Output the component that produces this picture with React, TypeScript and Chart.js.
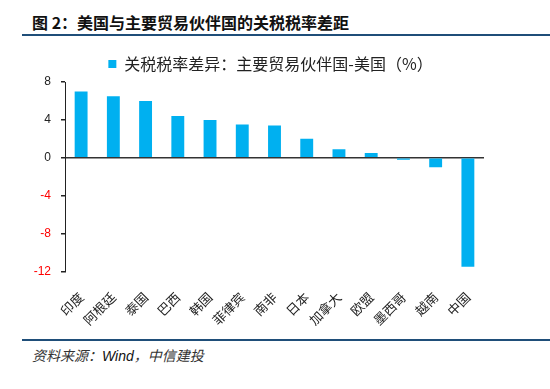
import React, { useEffect, useRef } from "react";
import { Chart, registerables } from "chart.js";

Chart.register(...registerables);

const categories = ["印度", "阿根廷", "泰国", "巴西", "韩国", "菲律宾", "南非", "日本", "加拿大", "欧盟", "墨西哥", "越南", "中国"];
const tariffGap = [7.0, 6.5, 6.0, 4.4, 4.0, 3.5, 3.4, 2.0, 0.9, 0.5, -0.2, -1.0, -11.5];
const seriesLabel = "关税税率差异：主要贸易伙伴国-美国（%）";
const yMin = -12;
const yMax = 8;
const yStep = 4;

const CJK = "'Noto Sans CJK SC', sans-serif";
const NUM = "'Liberation Sans', Arial, sans-serif";

const legendShift = {
  id: "legendShift",
  afterUpdate(chart: any) {
    if (chart.legend) {
      chart.legend.left += 16;
      chart.legend.right += 16;
    }
  },
};

export default function App() {
  const ref = useRef<HTMLCanvasElement | null>(null);

  useEffect(() => {
    if (!ref.current) return;
    const chart = new Chart(ref.current, {
      type: "bar",
      data: {
        labels: categories,
        datasets: [
          {
            label: seriesLabel,
            data: tariffGap,
            backgroundColor: "#00B0F0",
            borderWidth: 0,
            barPercentage: 0.4,
            categoryPercentage: 1,
          },
        ],
      },
      plugins: [legendShift],
      options: {
        responsive: false,
        animation: false,
        layout: { padding: { left: 25, right: 66, top: 0, bottom: 0 } },
        plugins: {
          legend: {
            position: "top",
            labels: {
              boxWidth: 8,
              boxHeight: 8,
              padding: 10,
              color: "#222",
              font: { family: CJK, size: 16 },
            },
          },
          tooltip: { enabled: false },
        },
        scales: {
          x: {
            grid: { display: false },
            border: { display: false },
            ticks: {
              minRotation: 45,
              maxRotation: 45,
              autoSkip: false,
              color: "#222",
              padding: 10,
              font: { family: CJK, size: 13 },
            },
          },
          y: {
            min: yMin,
            max: yMax,
            afterFit: (s: any) => {
              s.width = 40;
            },
            ticks: {
              stepSize: yStep,
              padding: 10,
              callback: (v: any) => String(v),
              color: (ctx: any) => (ctx.tick && ctx.tick.value < 0 ? "#FF0000" : "#222"),
              font: { family: NUM, size: 12 },
            },
            grid: {
              drawOnChartArea: true,
              drawTicks: true,
              tickLength: 4,
              tickColor: "#222",
              color: (ctx: any) => (ctx.tick && ctx.tick.value === 0 ? "#333" : "rgba(0,0,0,0)"),
              lineWidth: 1.5,
            },
            border: { display: true, color: "#222", width: 1 },
          },
        },
      },
    });
    return () => chart.destroy();
  }, []);

  return (
    <div style={{ position: "fixed", left: 0, top: 0, width: 550, height: 389, background: "#fff", overflow: "hidden" }}>
      <div
        style={{
          position: "absolute",
          left: 32,
          top: 10,
          fontFamily: CJK,
          fontWeight: 700,
          fontSize: 16,
          lineHeight: "24px",
          color: "#111",
          whiteSpace: "nowrap",
        }}
      >
        图 2：美国与主要贸易伙伴国的关税税率差距
      </div>
      <div style={{ position: "absolute", left: 22, top: 34, width: 528, height: 2, background: "#1F4E79" }} />
      <canvas ref={ref} width={550} height={292} style={{ position: "absolute", left: 0, top: 46, width: 550, height: 292 }} />
      <div style={{ position: "absolute", left: 22, top: 339, width: 528, height: 2, background: "#1F4E79" }} />
      <div
        style={{
          position: "absolute",
          left: 32,
          top: 344,
          fontFamily: CJK,
          fontStyle: "italic",
          fontSize: 14,
          lineHeight: "22px",
          color: "#333",
          whiteSpace: "nowrap",
        }}
      >
        资料来源：<span style={{ fontFamily: NUM, color: "#111" }}>Wind</span>，中信建投
      </div>
    </div>
  );
}
